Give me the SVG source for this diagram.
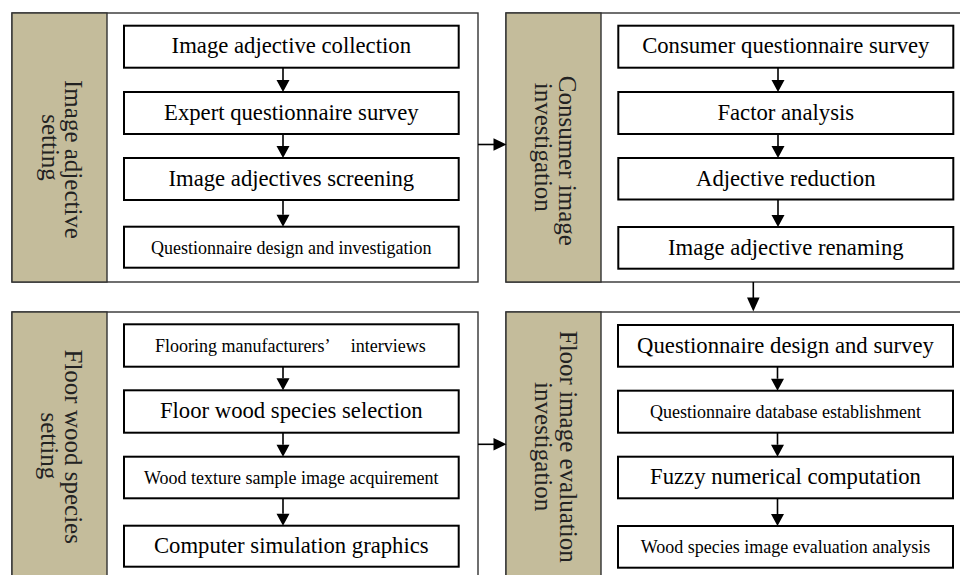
<svg xmlns="http://www.w3.org/2000/svg" width="960" height="575" viewBox="0 0 960 575">
<defs>
<style>
.panel{fill:#ffffff;stroke:#333333;stroke-width:1.4}
.tan{fill:#c4bc9b;stroke:#333333;stroke-width:1.4}
.box{fill:#ffffff;stroke:#000000;stroke-width:2}
.t{font-family:"Liberation Serif","Times New Roman",serif;fill:#000000;text-anchor:middle}
.big{font-size:22.7px}
.small{font-size:18px}
.vt{font-family:"Liberation Serif","Times New Roman",serif;fill:#222222;font-size:25px;text-anchor:middle}
.ln{stroke:#000000;stroke-width:1.6;fill:none}
.ah{fill:#000000}
</style>
</defs>
<rect width="960" height="575" fill="#ffffff"/>

<g id="panel-image-adjective-setting">
<rect class="panel" x="12" y="13" width="466" height="269"/>
<rect class="tan" x="12" y="13" width="95" height="269"/>
<text class="vt" transform="translate(65,159.5) rotate(90)">Image adjective</text>
<text class="vt" transform="translate(41.5,147.5) rotate(90)">setting</text>
</g>
<g id="panel-consumer-image-investigation">
<rect class="panel" x="506" y="13" width="470" height="269"/>
<rect class="tan" x="506" y="13" width="95" height="269"/>
<text class="vt" transform="translate(559,160.8) rotate(90)">Consumer image</text>
<text class="vt" transform="translate(535,147.3) rotate(90)">investigation</text>
</g>
<g id="panel-floor-wood-species-setting">
<rect class="panel" x="12" y="312" width="466" height="280"/>
<rect class="tan" x="12" y="312" width="95" height="280"/>
<text class="vt" transform="translate(65,446.7) rotate(90)">Floor wood species</text>
<text class="vt" transform="translate(40.5,445.8) rotate(90)">setting</text>
</g>
<g id="panel-floor-image-evaluation-investigation">
<rect class="panel" x="506" y="312" width="470" height="280"/>
<rect class="tan" x="506" y="312" width="95" height="280"/>
<text class="vt" transform="translate(560,446.7) rotate(90)">Floor image evaluation</text>
<text class="vt" transform="translate(535,446.7) rotate(90)">investigation</text>
</g>

<g id="n1"><rect class="box" x="124" y="25.7" width="334.7" height="42"/><text class="t big" x="291.3" y="53">Image adjective collection</text></g>
<g id="n2"><rect class="box" x="124" y="92" width="334.7" height="42"/><text class="t big" x="291.3" y="119.5">Expert questionnaire survey</text></g>
<g id="n3"><rect class="box" x="124" y="158" width="334.7" height="42"/><text class="t big" x="291.3" y="185.5">Image adjectives screening</text></g>
<g id="n4"><rect class="box" x="124" y="226.7" width="334.7" height="41"/><text class="t small" x="291.3" y="253.5">Questionnaire design and investigation</text></g>

<g id="n5"><rect class="box" x="618.3" y="25.7" width="335" height="42"/><text class="t big" x="785.8" y="53">Consumer questionnaire survey</text></g>
<g id="n6"><rect class="box" x="618.3" y="92" width="335" height="42"/><text class="t big" x="785.8" y="119.5">Factor analysis</text></g>
<g id="n7"><rect class="box" x="618.3" y="158" width="335" height="41.5"/><text class="t big" x="785.8" y="185.5">Adjective reduction</text></g>
<g id="n8"><rect class="box" x="618.3" y="227" width="335" height="41.7"/><text class="t big" x="785.8" y="254.5">Image adjective renaming</text></g>

<g id="n9"><rect class="box" x="124" y="324.3" width="334.7" height="42.4"/><text class="t small" x="155" y="351.5" style="text-anchor:start">Flooring manufacturers’<tspan x="350.7">interviews</tspan></text></g>
<g id="n10"><rect class="box" x="124" y="390.3" width="334.7" height="42.4"/><text class="t big" x="291.3" y="418">Floor wood species selection</text></g>
<g id="n11"><rect class="box" x="124" y="456.7" width="334.7" height="41.6"/><text class="t small" x="291.3" y="483.5">Wood texture sample image acquirement</text></g>
<g id="n12"><rect class="box" x="124" y="525.7" width="334.7" height="41"/><text class="t big" x="291.3" y="553">Computer simulation graphics</text></g>

<g id="n13"><rect class="box" x="618" y="325" width="335" height="41.7"/><text class="t big" x="785.5" y="352.5">Questionnaire design and survey</text></g>
<g id="n14"><rect class="box" x="618" y="390.7" width="335" height="42"/><text class="t small" x="785.5" y="417.5">Questionnaire database establishment</text></g>
<g id="n15"><rect class="box" x="618" y="456.7" width="335" height="41.6"/><text class="t big" x="785.5" y="484">Fuzzy numerical computation</text></g>
<g id="n16"><rect class="box" x="618" y="526" width="335" height="41.7"/><text class="t small" x="785.5" y="553">Wood species image evaluation analysis</text></g>

<g id="connectors">
<path class="ln" d="M283 67.7V80 M283 134V146 M283 200V214.7"/>
<path class="ah" d="M276.5 80H289.5L283 92Z M276.5 146H289.5L283 158Z M276.5 214.7H289.5L283 226.7Z"/>
<path class="ln" d="M778 67.7V80 M778 134V146 M778 199.5V215"/>
<path class="ah" d="M771.5 80H784.5L778 92Z M771.5 146H784.5L778 158Z M771.5 215H784.5L778 227Z"/>
<path class="ln" d="M283 366.7V378.3 M283 432.7V444.7 M283 498.3V513.7"/>
<path class="ah" d="M276.5 378.3H289.5L283 390.3Z M276.5 444.7H289.5L283 456.7Z M276.5 513.7H289.5L283 525.7Z"/>
<path class="ln" d="M777.5 366.7V378.7 M777.5 432.7V444.7 M777.5 498.3V514"/>
<path class="ah" d="M771 378.7H784L777.5 390.7Z M771 444.7H784L777.5 456.7Z M771 514H784L777.5 526Z"/>
<path class="ln" d="M478 144.5H494"/>
<path class="ah" d="M493.5 138.3V150.7L506.5 144.5Z"/>
<path class="ln" d="M478 444.3H494"/>
<path class="ah" d="M493.5 438.1V450.5L506.5 444.3Z"/>
<path class="ln" d="M753.3 282V298"/>
<path class="ah" d="M747 297.5H759.6L753.3 311.5Z"/>
</g>
</svg>
